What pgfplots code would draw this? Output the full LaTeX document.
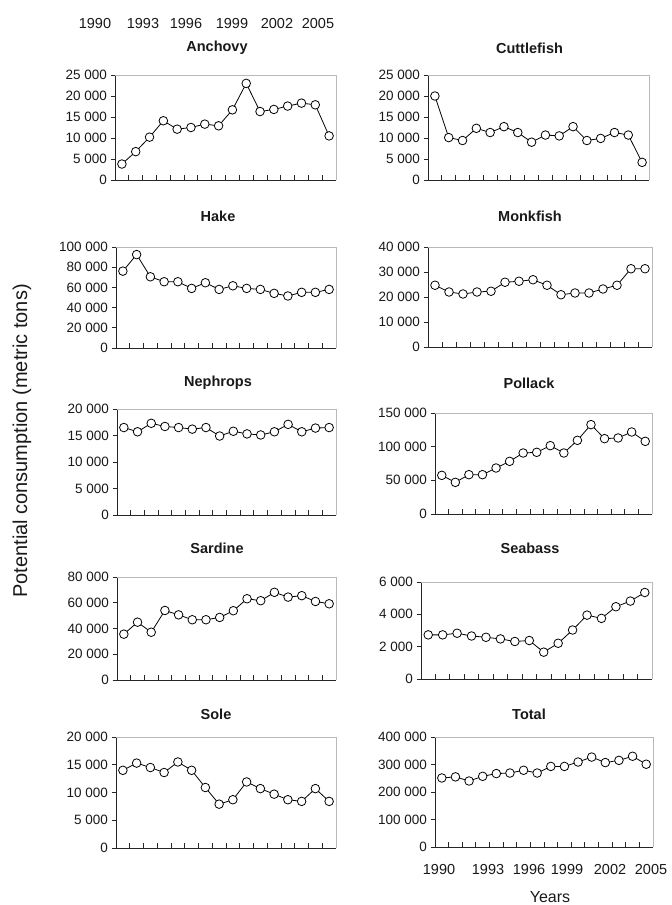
\documentclass[border=0pt]{standalone}
\usepackage{fontspec}
\setmainfont{Liberation Sans}
\usepackage{pgfplots}
\usepackage{pgfplotstable}
\pgfplotsset{compat=1.18}

\pgfplotstableread{
year anchovy cuttle hake monk neph pollack sardine seabass sole total
1990 3800 20000 76100 24700 16500 57400 35600 2730 14000 251000
1991 6750 10100 92500 22000 15700 47000 44900 2730 15300 255000
1992 10200 9400 70500 21200 17300 58400 37100 2830 14500 240000
1993 14100 12300 65600 22000 16700 58400 54000 2660 13600 257000
1994 12100 11300 65600 22300 16500 68300 50600 2580 15500 267000
1995 12500 12700 59000 25900 16200 78200 46800 2480 14000 269000
1996 13300 11300 64600 26300 16500 90600 46800 2320 10900 279000
1997 12900 9000 58000 26900 14900 91600 48600 2380 7900 269000
1998 16700 10700 61600 24700 15800 101500 53800 1660 8700 293000
1999 23000 10500 59000 20900 15300 90600 63100 2210 11900 293000
2000 16300 12700 58000 21600 15100 109400 61600 3030 10700 309000
2001 16800 9400 54100 21600 15700 132700 68100 3950 9700 327000
2002 17600 9900 51500 23200 17100 111900 64400 3750 8700 307000
2003 18300 11300 55100 24700 15700 112900 65500 4470 8400 315000
2004 17900 10700 55100 31300 16400 121800 61000 4820 10700 330000
2005 10500 4200 58000 31300 16500 107900 59200 5350 8400 301000
}\data

\pgfplotsset{
  panel/.style={
    scale only axis, anchor=south west, clip=false,
    xmin=0, xmax=16, ymin=0,
    xtick={0,1,...,16}, xticklabels={},
    axis x line*=bottom, axis y line*=left,
    axis line style={black!85, line width=0.9pt},
    tick align=outside, major tick length=4.5pt,
    tick style={black!85, line width=0.8pt},
    x tick style={yshift=4.5pt},
    scaled y ticks=false,
    yticklabel style={font=\fontsize{13.5}{15}\selectfont, text=black!90},
    /pgf/number format/.cd, assume math mode=true, fixed, precision=0, 1000 sep={\ },
  },
  series/.style={black, line width=0.8pt, mark=*, mark size=4.3pt,
    mark options={fill=white, draw=black, line width=0.8pt}},
}
\newcommand{\grayframe}{\draw[gray!55, line width=0.8pt] (rel axis cs:0,1) -- (rel axis cs:1,1) -- (rel axis cs:1,0);}

\begin{document}
\begin{tikzpicture}
\useasboundingbox (0,0) rectangle (672pt,905pt);

% Row 1
\begin{axis}[panel, at={(115pt,725pt)}, width=221pt, height=105pt, ymax=25000, ytick distance=5000]
\addplot[series] table[x expr=\thisrow{year}-1989.5, y=anchovy] {\data};
\grayframe
\end{axis}
\begin{axis}[panel, at={(428pt,725pt)}, width=221pt, height=105pt, ymax=25000, ytick distance=5000]
\addplot[series] table[x expr=\thisrow{year}-1989.5, y=cuttle] {\data};
\grayframe
\end{axis}
% Row 2
\begin{axis}[panel, at={(116pt,557pt)}, width=220pt, height=101pt, ymax=100000, ytick distance=20000]
\addplot[series] table[x expr=\thisrow{year}-1989.5, y=hake] {\data};
\grayframe
\end{axis}
\begin{axis}[panel, at={(428pt,558pt)}, width=224pt, height=100pt, ymax=40000, ytick distance=10000]
\addplot[series] table[x expr=\thisrow{year}-1989.5, y=monk] {\data};
\grayframe
\end{axis}
% Row 3
\begin{axis}[panel, at={(117pt,390pt)}, width=219pt, height=106pt, ymax=20000, ytick distance=5000]
\addplot[series] table[x expr=\thisrow{year}-1989.5, y=neph] {\data};
\grayframe
\end{axis}
\begin{axis}[panel, at={(435pt,391pt)}, width=217pt, height=101pt, ymax=150000, ytick distance=50000]
\addplot[series] table[x expr=\thisrow{year}-1989.5, y=pollack] {\data};
\grayframe
\end{axis}
% Row 4
\begin{axis}[panel, at={(117pt,225pt)}, width=219pt, height=103pt, ymax=80000, ytick distance=20000]
\addplot[series] table[x expr=\thisrow{year}-1989.5, y=sardine] {\data};
\grayframe
\end{axis}
\begin{axis}[panel, at={(421pt,226pt)}, width=231pt, height=97pt, ymax=6000, ytick distance=2000]
\addplot[series] table[x expr=\thisrow{year}-1989.5, y=seabass] {\data};
\grayframe
\end{axis}
% Row 5
\begin{axis}[panel, at={(116pt,57pt)}, width=220pt, height=111pt, ymax=20000, ytick distance=5000]
\addplot[series] table[x expr=\thisrow{year}-1989.5, y=sole] {\data};
\grayframe
\end{axis}
\begin{axis}[panel, at={(435pt,58pt)}, width=218pt, height=110pt, ymax=400000, ytick distance=100000]
\addplot[series] table[x expr=\thisrow{year}-1989.5, y=total] {\data};
\grayframe
\end{axis}

% Titles
\begin{scope}[every node/.style={font=\fontsize{14.5}{16}\selectfont\bfseries, text=black!90}]
\node at (217pt,857pt) {Anchovy};
\node at (529.5pt,857pt) {Cuttlefish};
\node at (218pt,688.5pt) {Hake};
\node at (530pt,689pt) {Monkfish};
\node at (218pt,522pt) {Nephrops};
\node at (529pt,522pt) {Pollack};
\node at (217pt,357pt) {Sardine};
\node at (530pt,357pt) {Seabass};
\node at (216pt,191pt) {Sole};
\node at (529pt,191pt) {Total};
\end{scope}

% Year labels
\begin{scope}[every node/.style={font=\fontsize{14.5}{16}\selectfont, text=black!90}]
\node at (95pt,881pt) {1990};
\node at (143pt,881pt) {1993};
\node at (186pt,881pt) {1996};
\node at (232pt,881pt) {1999};
\node at (277pt,881pt) {2002};
\node at (318pt,881pt) {2005};
\node at (439pt,35pt) {1990};
\node at (488pt,35pt) {1993};
\node at (529pt,35pt) {1996};
\node at (567pt,35pt) {1999};
\node at (610pt,35pt) {2002};
\node at (651pt,35pt) {2005};
\end{scope}
\node[font=\fontsize{16}{18}\selectfont, text=black!90, anchor=base] at (550pt,2.5pt) {Years};
\node[font=\fontsize{20}{22}\selectfont, text=black!90, rotate=90] at (22pt,464pt) {Potential consumption (metric tons)};
\end{tikzpicture}
\end{document}
